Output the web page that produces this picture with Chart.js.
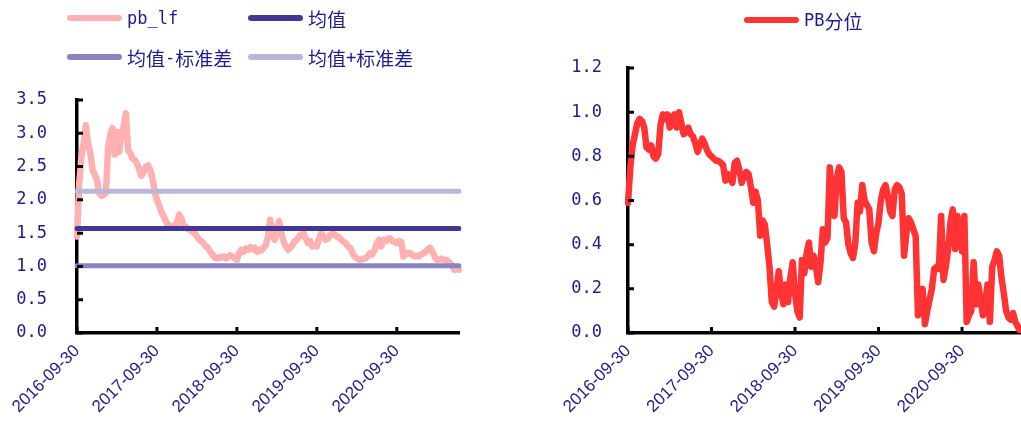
<!DOCTYPE html>
<html>
<head>
<meta charset="utf-8">
<script src="https://cdn.jsdelivr.net/npm/chart.js@4.4.1/dist/chart.umd.min.js"></script>
<style>
  html, body { margin: 0; padding: 0; background: #fff; width: 1021px; height: 424px; overflow: hidden; position: relative; }
  canvas { position: absolute; top: 0; }
  #pbChart { left: 0; }
  #pctChart { left: 540px; }
  .legend { position: absolute; color: #1c1c8a; font-family: "DejaVu Sans Mono", "Noto Sans CJK SC", monospace; font-size: 17px; }
  #pbLegend { left: 67px; top: 6px; display: grid; grid-template-columns: 181px 181px; row-gap: 15px; }
  #pctLegend { left: 744px; top: 8px; }
  .item { display: flex; align-items: center; white-space: nowrap; height: 24px; }
  .swatch { width: 55px; height: 6px; border-radius: 3px; margin-right: 5px; }
  .cjk { font-family: "Noto Sans CJK SC", sans-serif; font-size: 19px; }
</style>
</head>
<body>
<canvas id="pbChart" width="470" height="424"></canvas>
<canvas id="pctChart" width="490" height="424"></canvas>
<div id="pbLegend" class="legend"></div>
<div id="pctLegend" class="legend"></div>
<script>
// sample dates: 10th, 20th and month end, 2016-09-30 .. 2021-07-10
const START_DATE = '2016-09-30';
const END_DATE = '2021-07-10';

// PB (LF) level
const pbValues = [
  1.45, 2.25, 2.65, 2.85, 3.12, 2.85, 2.7, 2.45, 2.38, 2.3,
  2.1, 2.06, 2.08, 2.1, 2.78, 2.98, 3.08, 2.68, 3.02, 2.72,
  2.98, 3.1, 3.3, 2.75, 2.7, 2.62, 2.6, 2.55, 2.45, 2.36,
  2.42, 2.5, 2.52, 2.45, 2.32, 2.12, 2.0, 1.92, 1.82, 1.75,
  1.68, 1.62, 1.6, 1.58, 1.62, 1.65, 1.78, 1.72, 1.6, 1.6,
  1.56, 1.55, 1.52, 1.5, 1.45, 1.4, 1.38, 1.35, 1.3, 1.28,
  1.22, 1.18, 1.13, 1.12, 1.14, 1.13, 1.15, 1.12, 1.14, 1.17,
  1.15, 1.12, 1.1, 1.2, 1.25, 1.22, 1.27, 1.25, 1.29, 1.26,
  1.28, 1.22, 1.25, 1.24, 1.28, 1.32, 1.45, 1.7, 1.5, 1.4,
  1.55, 1.68, 1.5, 1.38, 1.3, 1.25, 1.28, 1.32, 1.38, 1.4,
  1.45, 1.48, 1.5, 1.42, 1.35, 1.38, 1.3, 1.32, 1.3, 1.42,
  1.5, 1.45, 1.4, 1.42, 1.47, 1.5, 1.48, 1.45, 1.44, 1.4,
  1.37, 1.35, 1.3, 1.28, 1.2, 1.15, 1.12, 1.1, 1.1, 1.12,
  1.12, 1.15, 1.2, 1.18, 1.25, 1.35, 1.4, 1.3, 1.4, 1.38,
  1.42, 1.42, 1.38, 1.37, 1.35, 1.38, 1.37, 1.15, 1.18, 1.2,
  1.2, 1.17, 1.15, 1.16, 1.15, 1.18, 1.2, 1.22, 1.26, 1.28,
  1.22, 1.15, 1.1, 1.1, 1.12, 1.1, 1.1, 1.08, 1.05, 1.0,
  0.95, 0.97, 0.95
];

// reference levels
const pbMean = 1.57;
const pbMeanMinusStd = 1.01;
const pbMeanPlusStd = 2.13;

// PB percentile
const pctValues = [
  0.59, 0.75, 0.85, 0.9, 0.95, 0.97, 0.96, 0.93, 0.84, 0.83,
  0.85, 0.8, 0.79, 0.81, 0.94, 0.99, 0.97, 0.99, 0.93, 0.97,
  0.99, 0.93, 1.0, 0.95, 0.9, 0.91, 0.93, 0.9, 0.89, 0.86,
  0.82, 0.85, 0.88, 0.86, 0.83, 0.81, 0.8, 0.79, 0.78, 0.78,
  0.77, 0.76, 0.69, 0.72, 0.7, 0.68, 0.77, 0.78, 0.74, 0.68,
  0.71, 0.73, 0.72, 0.66, 0.59, 0.64, 0.6, 0.44, 0.51, 0.49,
  0.4, 0.3, 0.14, 0.12, 0.2, 0.28, 0.18, 0.13, 0.22, 0.14,
  0.25, 0.32, 0.18, 0.1, 0.07, 0.33, 0.27, 0.36, 0.41, 0.3,
  0.35, 0.3, 0.23, 0.32, 0.47, 0.41, 0.43, 0.75, 0.62, 0.53,
  0.7, 0.75, 0.73, 0.52, 0.5, 0.4, 0.36, 0.34, 0.41, 0.59,
  0.55, 0.67, 0.6, 0.58, 0.56, 0.41, 0.37, 0.45, 0.5, 0.6,
  0.65, 0.67, 0.62, 0.55, 0.53, 0.65, 0.67, 0.66, 0.63, 0.35,
  0.45, 0.52, 0.5, 0.47, 0.44, 0.08, 0.14, 0.2, 0.04, 0.1,
  0.15, 0.2, 0.29, 0.3, 0.29, 0.53, 0.24, 0.3, 0.38, 0.5,
  0.56, 0.38, 0.53, 0.45, 0.37, 0.53, 0.05, 0.08, 0.1, 0.32,
  0.13, 0.22, 0.15, 0.08, 0.14, 0.22, 0.05, 0.3, 0.33, 0.37,
  0.35, 0.25, 0.18, 0.1, 0.07, 0.06, 0.09, 0.05, 0.03, 0.01,
  0.02, 0.01, 0.02
];

const pbLabels = ['pb_lf', '均值', '均值-标准差', '均值+标准差'];
const pctLabels = ['PB分位'];

const NAVY = '#1c1c8a';
const COLORS = {
  pb: '#ffb0b0',
  mean: '#403894',
  minus: '#8b83c0',
  plus: '#bcb5da',
  pct: '#ff3333'
};

function buildDates(start, end) {
  const out = [start];
  let y = 2016, m = 10;
  while (out[out.length - 1] !== end) {
    const mm = String(m).padStart(2, '0');
    const last = new Date(Date.UTC(y, m, 0)).getUTCDate();
    for (const d of [10, 20, last]) {
      out.push(y + '-' + mm + '-' + String(d).padStart(2, '0'));
      if (out[out.length - 1] === end) break;
    }
    m++;
    if (m > 12) { m = 1; y++; }
  }
  return out;
}
const dates = buildDates(START_DATE, END_DATE);

// short tick marks drawn on the inner side of both axes
const innerTicks = {
  id: 'innerTicks',
  afterDraw(chart) {
    const { ctx, chartArea: a, scales: { x, y } } = chart;
    ctx.save();
    ctx.strokeStyle = '#000';
    ctx.lineWidth = 3;
    ctx.beginPath();
    y.ticks.forEach(t => {
      const py = y.getPixelForValue(t.value);
      ctx.moveTo(a.left, py);
      ctx.lineTo(a.left + 6, py);
    });
    x.ticks.forEach((t, i) => {
      if (!t.label) return;
      const px = x.getPixelForTick(i);
      ctx.moveTo(px, a.bottom);
      ctx.lineTo(px, a.bottom - 6);
    });
    ctx.stroke();
    ctx.restore();
  }
};

function scalesFor(yMax, yStep, yWidth, yPad) {
  return {
    x: {
      grid: { display: false, drawTicks: false },
      border: { color: '#000', width: 3.5 },
      ticks: {
        autoSkip: false,
        minRotation: 45,
        maxRotation: 45,
        padding: 8,
        color: NAVY,
        font: { family: '"Liberation Sans", Arial, sans-serif', size: 17 },
        callback(v) {
          const s = this.getLabelForValue(v);
          return s.endsWith('-09-30') ? s : null;
        }
      },
      afterFit(s) { s.height = 91; }
    },
    y: {
      min: 0,
      max: yMax,
      grid: { display: false, drawTicks: false },
      border: { color: '#000', width: 3.5 },
      ticks: {
        stepSize: yStep,
        padding: yPad,
        color: NAVY,
        font: { family: '"DejaVu Sans Mono", monospace', size: 17 },
        callback: v => v.toFixed(1)
      },
      afterFit(s) { s.width = yWidth; }
    }
  };
}

function flatLine(label, value, color, order) {
  return {
    label: label,
    data: [{ x: dates[0], y: value }, { x: dates[dates.length - 1], y: value }],
    borderColor: color,
    borderWidth: 5,
    borderCapStyle: 'round',
    pointRadius: 0,
    order: order
  };
}

const common = {
  responsive: false,
  animation: false,
  plugins: { legend: { display: false }, tooltip: { enabled: false } },
  elements: { line: { tension: 0, borderJoinStyle: 'round' }, point: { radius: 0 } }
};

new Chart(document.getElementById('pbChart'), {
  type: 'line',
  data: {
    labels: dates,
    datasets: [
      { label: pbLabels[0], data: pbValues, borderColor: COLORS.pb, borderWidth: 6.5, borderCapStyle: 'round', order: 4 },
      flatLine(pbLabels[1], pbMean, COLORS.mean, 1),
      flatLine(pbLabels[2], pbMeanMinusStd, COLORS.minus, 2),
      flatLine(pbLabels[3], pbMeanPlusStd, COLORS.plus, 3)
    ]
  },
  options: Object.assign({}, common, {
    layout: { padding: { top: 100, left: 0, right: 11, bottom: 0 } },
    scales: scalesFor(3.5, 0.5, 77, 30)
  }),
  plugins: [innerTicks]
});

new Chart(document.getElementById('pctChart'), {
  type: 'line',
  data: {
    labels: dates,
    datasets: [
      { label: pctLabels[0], data: pctValues, borderColor: COLORS.pct, borderWidth: 6.5, borderCapStyle: 'round' }
    ]
  },
  options: Object.assign({}, common, {
    layout: { padding: { top: 68, left: 0, right: 3, bottom: 0 } },
    scales: scalesFor(1.2, 0.2, 88, 26)
  }),
  plugins: [innerTicks]
});

// html legends
function legendText(s) {
  return s.replace(/[\u4e00-\u9fff]+/g, m => '<span class="cjk">' + m + '</span>');
}
function fillLegend(el, labels, colors) {
  el.innerHTML = labels.map((l, i) =>
    '<div class="item"><div class="swatch" style="background:' + colors[i] + '"></div>' + legendText(l) + '</div>'
  ).join('');
}
fillLegend(document.getElementById('pbLegend'), pbLabels, [COLORS.pb, COLORS.mean, COLORS.minus, COLORS.plus]);
fillLegend(document.getElementById('pctLegend'), pctLabels, [COLORS.pct]);
</script>
</body>
</html>
